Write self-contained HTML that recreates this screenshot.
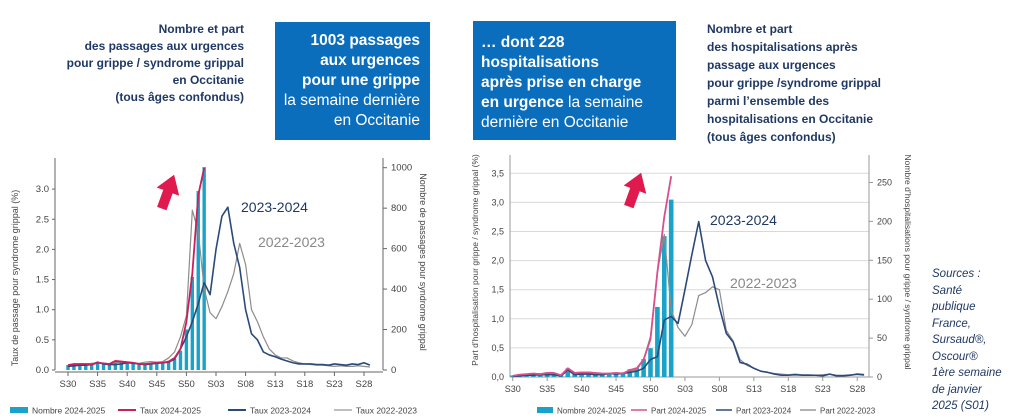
<!DOCTYPE html>
<html><head><meta charset="utf-8">
<style>
body{margin:0;width:1012px;height:419px;overflow:hidden;background:#fff;font-family:"Liberation Sans",sans-serif;position:relative}
.t{position:absolute;color:#1f3864;font-weight:bold;font-size:12px;line-height:17px;white-space:nowrap}
.box{position:absolute;background:#0a6ebd;color:#fff;font-size:15.5px;line-height:20px;white-space:nowrap}
.box b{font-weight:bold}
#src{position:absolute;left:932px;top:266px;color:#1f3864;font-style:italic;font-size:11.5px;line-height:16.5px}
svg{position:absolute;left:0;top:0}
</style></head><body>
<div class="t" style="left:30px;top:21px;width:214px;text-align:right">Nombre et part<br>des passages aux urgences<br>pour grippe / syndrome grippal<br>en Occitanie<br>(tous âges confondus)</div>
<div class="box" style="left:275px;top:22px;width:145px;padding-right:10px;text-align:right;padding-top:9px;height:109px"><b>1003 passages<br>aux urgences<br>pour une grippe</b><br>la semaine dernière<br>en Occitanie</div>
<div class="box" style="left:473px;top:21px;width:195px;padding-left:8px;padding-top:12px;height:107px"><b>… dont 228<br>hospitalisations<br>après prise en charge<br>en urgence</b> la semaine<br>dernière en Occitanie</div>
<div class="t" style="left:707px;top:20px;line-height:18px">Nombre et part<br>des hospitalisations après<br>passage aux urgences<br>pour grippe /syndrome grippal<br>parmi l’ensemble des<br>hospitalisations en Occitanie<br>(tous âges confondus)</div>
<div id="src">Sources :<br>Santé<br>publique<br>France,<br>Sursaud®,<br>Oscour®<br>1ère semaine<br>de janvier<br>2025 (S01)</div>
<svg id="c" width="1012" height="419"></svg>
<script>
// ---- data: left chart (passages aux urgences) ----
const tickLabels=["S30","S35","S40","S45","S50","S03","S08","S13","S18","S23","S28"];
const leftYTicks=[0,0.5,1,1.5,2,2.5,3];
const leftY2Ticks=[0,200,400,600,800,1000];
const countL=[25,30,30,30,28,35,32,30,38,40,38,35,32,30,32,35,35,40,55,95,200,460,885,1003];
const rateL24=[0.08,0.1,0.1,0.1,0.09,0.12,0.11,0.1,0.15,0.14,0.13,0.12,0.1,0.1,0.11,0.12,0.12,0.14,0.2,0.35,0.8,1.6,2.9,3.35];
const rateL23=[0.06,0.07,0.08,0.08,0.09,0.13,0.1,0.09,0.09,0.1,0.12,0.11,0.1,0.09,0.1,0.11,0.12,0.13,0.18,0.35,0.55,0.8,1.1,1.45,1.25,2.0,2.55,2.7,2.1,1.7,1.0,0.6,0.5,0.3,0.25,0.22,0.18,0.15,0.12,0.1,0.1,0.1,0.09,0.09,0.08,0.1,0.09,0.08,0.1,0.09,0.12,0.08];
const rateL22=[0.08,0.09,0.1,0.1,0.11,0.12,0.11,0.1,0.12,0.13,0.12,0.12,0.11,0.13,0.14,0.13,0.14,0.2,0.3,0.55,0.9,2.65,2.3,1.35,0.95,0.85,1.05,1.3,1.6,2.1,1.75,1.0,0.8,0.55,0.35,0.25,0.2,0.2,0.15,0.12,0.1,0.09,0.08,0.08,0.07,0.06,0.07,0.06,0.06,0.07,0.06,0.05];
// ---- data: right chart (hospitalisations) ----
const rightYTicks=[0,0.5,1,1.5,2,2.5,3,3.5];
const rightYTickLabels=["0,0","0,5","1,0","1,5","2,0","2,5","3,0","3,5"];
const rightY2Ticks=[0,50,100,150,200,250];
const countR=[2,3,4,4,5,6,5,3,11,5,6,7,5,4,5,6,6,10,12,23,37,90,181,228];
const partR24=[0.02,0.04,0.05,0.06,0.05,0.07,0.07,0.03,0.15,0.07,0.08,0.08,0.07,0.06,0.06,0.07,0.06,0.12,0.15,0.3,0.65,1.8,2.75,3.45];
const partR23=[0.01,0.02,0.03,0.03,0.04,0.04,0.04,0.02,0.12,0.04,0.05,0.05,0.04,0.04,0.06,0.05,0.06,0.08,0.1,0.15,0.3,0.35,0.98,1.04,0.92,1.5,2.1,2.67,2.0,1.72,1.2,0.75,0.6,0.25,0.22,0.15,0.1,0.08,0.05,0.03,0.03,0.04,0.03,0.03,0.03,0.02,0.05,0.02,0.02,0.03,0.05,0.04];
const partR22=[0.02,0.03,0.04,0.05,0.05,0.06,0.06,0.03,0.1,0.06,0.07,0.06,0.05,0.05,0.06,0.06,0.07,0.1,0.12,0.3,0.7,1.8,2.45,1.15,0.85,0.7,0.9,1.4,1.45,1.55,1.5,0.8,0.62,0.3,0.2,0.15,0.1,0.08,0.06,0.05,0.04,0.05,0.04,0.04,0.03,0.04,0.05,0.03,0.03,0.04,0.04,0.03];

const svg=document.getElementById('c');
const NS='http://www.w3.org/2000/svg';
function mk(tag,at,txt){const e=document.createElementNS(NS,tag);for(const k in at)e.setAttribute(k,at[k]);if(txt!==undefined)e.textContent=txt;svg.appendChild(e);return e;}

function chart(o){
  const X=i=>o.x0+i*o.dx;
  const Y=v=>o.y0-v*o.ky;
  const Y2=v=>o.y0-v*o.ky2;
  if(o.grid){o.yTicks.forEach(v=>{const g=mk('line',{x1:o.ax,x2:o.ax2,y1:Y(v),y2:Y(v),stroke:'#d9d9d9','stroke-width':1});
    
    });}
  let a=mk('line',{x1:o.ax,x2:o.ax,y1:o.top,y2:o.y0,stroke:o.axc,'stroke-width':1});
  
  
  a=mk('line',{x1:o.ax2,x2:o.ax2,y1:o.top,y2:o.y0,stroke:o.axc,'stroke-width':1});
  
  
  a=mk('line',{x1:o.ax,x2:o.ax2,y1:o.xaxY,y2:o.xaxY,stroke:o.axc,'stroke-width':1});
  
  
  o.yTicks.forEach((v,i)=>{
    const t=mk('text',{x:o.ax-6,y:Y(v)+3,'text-anchor':'end','font-size':o.fs,fill:'#444'},o.yLabels?o.yLabels[i]:v.toFixed(1));
    
    
    if(!o.grid){const l=mk('line',{x1:o.ax-3,x2:o.ax,y1:Y(v),y2:Y(v),stroke:o.axc});
      
      }
  });
  o.y2Ticks.forEach(v=>{
    const t=mk('text',{x:o.ax2+8,y:Y2(v)+3,'font-size':o.fs,fill:'#444'},String(v));
    
    
    const l=mk('line',{x1:o.ax2,x2:o.ax2+4,y1:Y2(v),y2:Y2(v),stroke:o.axc});
    
    
  });
  tickLabels.forEach((s,i)=>{
    const l=mk('line',{x1:X(i*5),x2:X(i*5),y1:o.xaxY,y2:o.xaxY+4,stroke:o.axc});
    
    
    const t=mk('text',{x:X(i*5),y:o.xaxY+15,'text-anchor':'middle','font-size':o.fs,fill:'#444'},s);
    
    
  });
  o.counts.forEach((v,i)=>{
    const r=mk('rect',{x:X(i)-o.bw/2,y:Y2(v),width:o.bw,height:o.y0-Y2(v),fill:'#1aa3c8'});
    
    
  });
  const line=(arr,col,w,name)=>{
    const p=mk('polyline',{points:arr.map((v,i)=>X(i)+','+Y(v)).join(' '),fill:'none',stroke:col,'stroke-width':w,'stroke-linejoin':'round'});
    
    
  };
  line(o.s22,'#8c8c8c',1.2,'line-2022-2023');
  line(o.s23,'#2a4a78',1.6,'line-2023-2024');
  line(o.s24,o.pink,1.8,'line-2024-2025');
  let t=mk('text',{transform:`translate(${o.yt1x},${o.yt1y}) rotate(-90)`,'text-anchor':'middle','font-size':o.tfs,fill:'#444'},o.yt1);
  
  
  t=mk('text',{transform:`translate(${o.yt2x},${o.yt2y}) rotate(90)`,'text-anchor':'middle','font-size':o.tfs,fill:'#444'},o.yt2);
  
  
  t=mk('text',{x:o.a23x,y:o.a23y,'font-size':14,fill:'#1f3864'},'2023-2024');
  
  
  t=mk('text',{x:o.a22x,y:o.a22y,'font-size':14,fill:'#888'},'2022-2023');
  
  
  const ar=mk('polygon',{points:'-5,24 5,24 5,6 12,6 0,-12 -12,6 -5,6',fill:'#e0194f',transform:`translate(${o.arx},${o.ary}) rotate(20)`});
  
  
  o.legend.forEach(L=>{
    let s;
    if(L.bar) s=mk('rect',{x:L.x,y:o.ly-3,width:L.w,height:6,fill:'#1aa3c8'});
    else s=mk('line',{x1:L.x,x2:L.x+L.w,y1:o.ly,y2:o.ly,stroke:L.c,'stroke-width':L.sw});
    
    
    const tt=mk('text',{x:L.x+L.w+4,y:o.ly+3.5,'font-size':o.lfs,fill:'#444'},L.t);
    
    
  });
}
chart({x0:68,dx:5.92,y0:370,ky:60.3,ky2:0.2023,ax:55,ax2:383,top:158,xaxY:372,axc:'#666',fs:9.5,
  yTicks:leftYTicks,y2Ticks:leftY2Ticks,counts:countL,s24:rateL24,s23:rateL23,s22:rateL22,bw:3.4,pink:'#cc1f5a',
  yt1:'Taux de passage pour syndrome grippal (%)',yt1x:18,yt1y:278,yt2:'Nombre de passages pour syndrome grippal',yt2x:420,yt2y:262,tfs:9,
  a23x:241,a23y:212,a22x:258,a22y:247,arx:170,ary:186,ly:410,lfs:8.5,
  legend:[{bar:1,x:10,w:18,t:'Nombre 2024-2025'},{x:118,w:18,c:'#cc1f5a',sw:2,t:'Taux 2024-2025'},{x:228,w:18,c:'#2a4a78',sw:2,t:'Taux 2023-2024'},{x:334,w:18,c:'#999',sw:1.2,t:'Taux 2022-2023'}]});
chart({x0:512.7,dx:6.89,y0:377,ky:58.2,ky2:0.778,ax:510,ax2:869,top:155,xaxY:377,axc:'#999',fs:9,grid:1,
  yTicks:rightYTicks,yLabels:rightYTickLabels,y2Ticks:rightY2Ticks,counts:countR,s24:partR24,s23:partR23,s22:partR22,bw:4.6,pink:'#d94f8c',
  yt1:'Part d’hospitalisation pour grippe / syndrome grippal (%)',yt1x:478,yt1y:260,yt2:'Nombre d’hospitalisations pour grippe / syndrome grippal',yt2x:905,yt2y:262,tfs:8.5,
  a23x:710,a23y:225,a22x:730,a22y:288,arx:637,ary:184,ly:410,lfs:8,
  legend:[{bar:1,x:537,w:16,t:'Nombre 2024-2025'},{x:631,w:16,c:'#d94f8c',sw:1.5,t:'Part 2024-2025'},{x:716,w:16,c:'#2a4a78',sw:1.5,t:'Part 2023-2024'},{x:800,w:16,c:'#999',sw:1.5,t:'Part 2022-2023'}]});
</script>
</body></html>
